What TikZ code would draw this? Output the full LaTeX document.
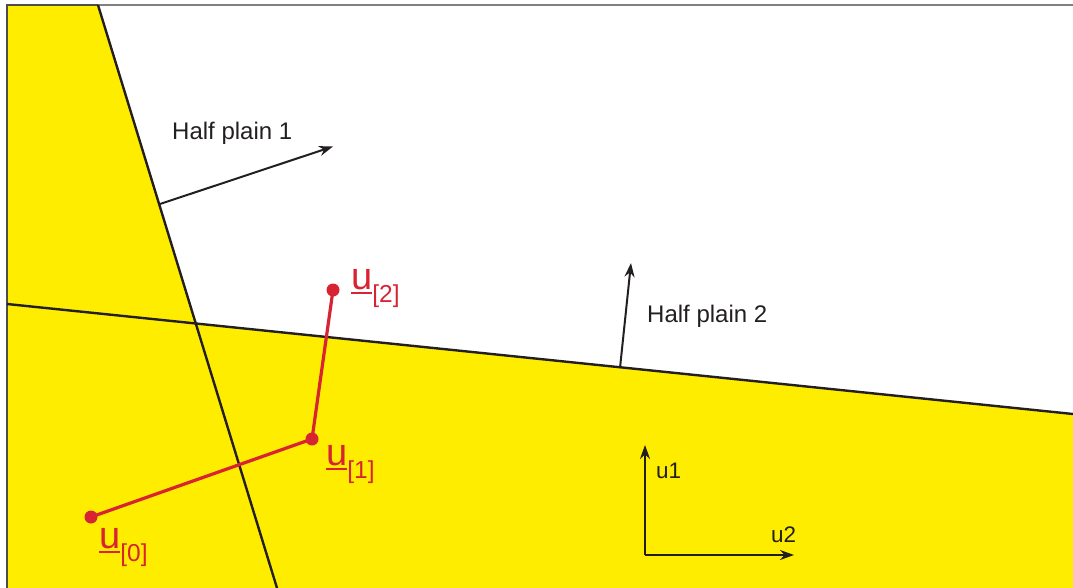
\documentclass[tikz,border=0pt]{standalone}
\usepackage{fontspec}
\setmainfont{Liberation Sans}
\usetikzlibrary{arrows.meta}
\definecolor{ylw}{RGB}{255,237,0}
\definecolor{redu}{RGB}{215,35,50}
\definecolor{ink}{RGB}{35,31,32}
\definecolor{frameg}{RGB}{128,128,128}
\newcommand\myuline[1]{\setbox0\hbox{#1}\rlap{\rule[-5pt]{\wd0}{2.2pt}}\box0}
\newcommand\ulab[1]{{\fontsize{38}{38}\selectfont\myuline{u}}\raisebox{-13pt}{\fontsize{24.5}{25}\selectfont[#1]}}
\begin{document}
\begin{tikzpicture}[x=1pt,y=-1pt,
  bline/.style={draw=ink,line width=2.4pt},
  arr/.style={draw=ink,line width=2pt,-{Stealth[length=14pt,width=10pt]}},
  rline/.style={draw=redu,line width=3.2pt},
  rdot/.style={circle,fill=redu,inner sep=0pt,minimum size=13pt},
  lab/.style={inner sep=0pt,anchor=base west,text=ink,font=\fontsize{24}{27}\selectfont},
  axlab/.style={inner sep=0pt,anchor=base west,text=ink,font=\fontsize{22.5}{25}\selectfont},
  ulabel/.style={inner sep=0pt,anchor=base west,text=redu}]
\useasboundingbox (0,0) rectangle (1073,588);
% yellow region
\fill[ylw] (7,5) -- (98,5) -- (195.3,323.4) -- (1073,414) -- (1073,588) -- (7,588) -- cycle;
% frame
\draw[frameg,line width=2.4pt] (7,5) -- (1073,5);
\draw[ink!80,line width=2.4pt] (7,5) -- (98,5);
\draw[ink!80,line width=2.4pt] (7,4) -- (7,588);
% boundary lines
\coordinate (l1a) at (98,5);
\coordinate (l1b) at (277,588);
\coordinate (l2a) at (7,304);
\coordinate (l2b) at (1073,414);
\draw[bline] (l1a) -- (l1b);
\draw[bline] (l2a) -- (l2b);
% half-plane arrows
\coordinate (a1s) at (160,204);
\coordinate (a1e) at (333,146.5);
\coordinate (a2s) at (620,368);
\coordinate (a2e) at (631,263);
\draw[arr] (a1s) -- (a1e);
\draw[arr] (a2s) -- (a2e);
\node[lab] (hp1) at (172,140) {Half plain 1};
\node[lab] (hp2) at (647,322) {Half plain 2};
% red path
\node[rdot] (u0) at (91,517) {};
\node[rdot] (u1) at (312,439) {};
\node[rdot] (u2) at (333,290) {};
\draw[rline] (u0.center) -- (u1.center) -- (u2.center);
\node[ulabel] (lu0) at (99,548) {\ulab{0}};
\node[ulabel] (lu1) at (326,465) {\ulab{1}};
\node[ulabel] (lu2) at (351,289) {\ulab{2}};
% axes
\coordinate (o) at (645,555);
\coordinate (ax1) at (645,445);
\coordinate (ax2) at (794,555);
\draw[arr] (o) -- (ax1);
\draw[arr] (o) -- (ax2);
\node[axlab] (tu1) at (656,478) {u1};
\node[axlab] (tu2) at (771,542) {u2};
\end{tikzpicture}
\end{document}
